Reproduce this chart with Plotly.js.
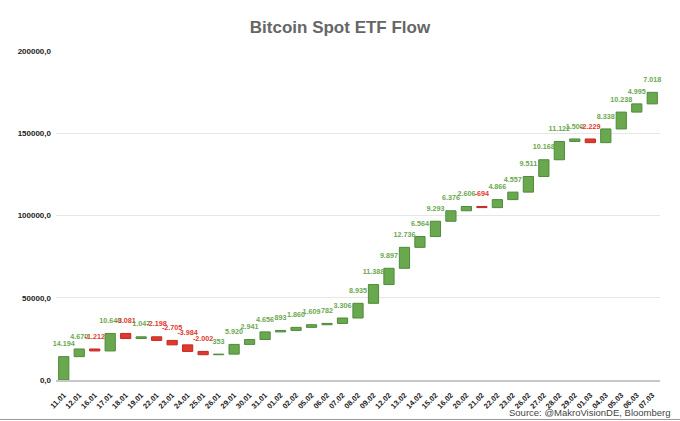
<!DOCTYPE html>
<html>
<head>
<meta charset="utf-8">
<script src="https://cdn.plot.ly/plotly-3.0.1.min.js"></script>
<style>
  html, body { margin: 0; padding: 0; background: #fff; }
  #chart { width: 680px; height: 421px; }
</style>
</head>
<body>
<div id="chart"></div>
<script>
var dates = ['11.01','12.01','16.01','17.01','18.01','19.01','22.01','23.01','24.01','25.01',
  '26.01','29.01','30.01','31.01','01.02','02.02','05.02','06.02','07.02','08.02',
  '09.02','12.02','13.02','14.02','15.02','16.02','20.02','21.02','22.02','23.02',
  '26.02','27.02','28.02','29.02','01.03','04.03','05.03','06.03','07.03'];
var flows = [14194, 4670, -1212, 10640, -3081, 1047, -2198, -2705, -3984, -2002,
  353, 5920, 2941, 4656, 893, 1860, 1609, 782, 3306, 8935,
  11388, 9897, 12736, 6564, 9293, 6376, 2606, -694, 4866, 4557,
  9511, 10168, 11122, 1500, -2229, 8338, 10238, 4995, 7018];
var yTicks = [0, 50000, 100000, 150000, 200000];
var yTickText = ['0,0', '50000,0', '100000,0', '150000,0', '200000,0'];

var green = '#6aa84f', red = '#e0392f';

// label sits above the top of each step
function fmt(v) {
  var s = Math.abs(v).toString().replace(/\B(?=(\d{3})+(?!\d))/g, '.');
  return (v < 0 ? '-' : '') + s;
}
var labelY = [], run = 0;
flows.forEach(function (v) {
  var before = run;
  run += v;
  labelY.push(Math.max(before, run));
});

var bars = {
  type: 'waterfall',
  x: dates,
  y: flows,
  measure: dates.map(function () { return 'relative'; }),
  width: 0.66,
  increasing: { marker: { color: green, line: { color: '#4f8a3a', width: 1 } } },
  decreasing: { marker: { color: red, line: { color: '#c22a22', width: 1 } } },
  connector: { visible: false },
  hoverinfo: 'x+y',
  showlegend: false
};

var labels = {
  type: 'scatter',
  mode: 'markers+text',
  x: dates,
  y: labelY,
  text: flows.map(fmt),
  textposition: 'top center',
  marker: { size: 12, opacity: 0 },
  textfont: {
    family: 'Liberation Sans, Arial, sans-serif',
    size: 7.2,
    weight: 'bold',
    color: flows.map(function (v) { return v < 0 ? red : green; })
  },
  cliponaxis: false,
  hoverinfo: 'skip',
  showlegend: false
};

var layout = {
  width: 680,
  height: 421,
  margin: { l: 56, r: 20, t: 51, b: 41, autoexpand: false },
  paper_bgcolor: '#fff',
  plot_bgcolor: '#fff',
  font: { family: 'Liberation Sans, Arial, sans-serif', color: '#222' },
  title: {
    text: '<b>Bitcoin Spot ETF Flow</b>',
    x: 0.5, xanchor: 'center',
    y: 0.935, yanchor: 'middle',
    font: { size: 17, color: '#666' }
  },
  xaxis: {
    type: 'category',
    range: [-0.5, dates.length - 0.5],
    tickangle: -45,
    tickfont: { size: 7.5, weight: 'bold', color: '#222' },
    showgrid: false,
    showline: true,
    linecolor: '#c8c8c8',
    linewidth: 2,
    ticks: '',
    ticklabelstandoff: 6,
    fixedrange: true
  },
  yaxis: {
    range: [0, 200000],
    tickvals: yTicks,
    ticktext: yTickText,
    tickfont: { size: 8, weight: 'bold', color: '#222' },
    gridcolor: '#e6e6e6',
    gridwidth: 1,
    zeroline: false,
    showline: false,
    ticks: '',
    ticklabelstandoff: 4,
    fixedrange: true
  },
  annotations: [{
    text: 'Source: @MakroVisionDE, Bloomberg',
    xref: 'paper', yref: 'paper',
    x: 1.022, y: -0.1,
    xanchor: 'right', yanchor: 'middle',
    showarrow: false,
    font: { size: 9.5, color: '#444' }
  }],
  shapes: [{
    type: 'line', xref: 'paper', yref: 'paper',
    x0: -0.1, x1: 1.04, y0: -0.12, y1: -0.12,
    line: { color: '#9a9a9a', width: 1 }
  }]
};

Plotly.newPlot('chart', [bars, labels], layout, { displayModeBar: false, staticPlot: true });
</script>
</body>
</html>
